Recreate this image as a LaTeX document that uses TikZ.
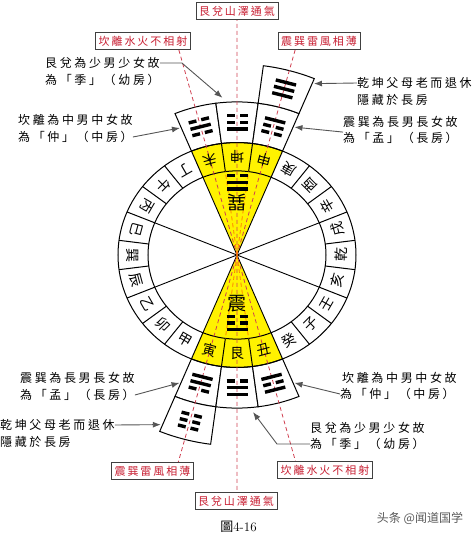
\documentclass[tikz,border=0pt]{standalone}
\usepackage{fontspec}
\usetikzlibrary{arrows.meta}
\newfontfamily\cjk{Noto Sans CJK TC}
\newfontfamily\notefont{Noto Sans CJK TC}[LetterSpace=22]
\newfontfamily\tagfont{Noto Sans CJK TC}[LetterSpace=18]
\newfontfamily\cjksc{Noto Sans CJK SC}
\definecolor{tagred}{RGB}{200,30,50}
\definecolor{gold}{RGB}{255,242,0}
\definecolor{pen}{RGB}{85,85,85}

% one line of a trigram: #1 height, #2 = 1 solid / 0 broken
\newcommand{\yao}[2]{%
  \ifnum#2=1 \draw (-10.5,#1) -- (10.5,#1);
  \else \draw (-10.5,#1) -- (-2.5,#1) (2.5,#1) -- (10.5,#1); \fi}
% trigram at angle #1, radius #2; lines #3 #4 #5 from the centre outwards
\newcommand{\gua}[5]{%
  \begin{scope}[shift={(#1:#2)},rotate=#1+90,line width=3.4pt]
    \yao{7}{#3}\yao{0}{#4}\yao{-7}{#5}
  \end{scope}}

\begin{document}
\begin{tikzpicture}[x=1pt,y=1pt,>={Latex[length=8pt,width=6pt]}]
  \tikzstyle{tag}=[draw=black!75,line width=0.9pt,fill=white,text=tagred,
    font=\tagfont\fontsize{11}{13}\selectfont,inner sep=3pt]
  \tikzstyle{note}=[font=\notefont\fontsize{12}{14}\selectfont,inner sep=0pt]
  \tikzstyle{pointer}=[->,draw=pen,line width=0.9pt]
  \tikzstyle{axis}=[draw=tagred!85,line width=0.8pt,dash pattern=on 4pt off 3pt]
  \tikzstyle{cell}=[draw,line width=1pt,fill=white]
  \tikzstyle{mount}=[font=\cjk\fontsize{14}{14}\selectfont,inner sep=0pt]
  \useasboundingbox (-237,-280) rectangle (237,255);

  \begin{scope}[yscale=0.945]
    % yellow wedges
    \foreach \a in {67.5,247.5}
    \fill[gold] (0,0) -- (\a:119) arc[start angle=\a,end angle=\a+45,radius=119] -- cycle;

    % hexagram cells outside the ring
    \foreach \a/\r/\R in {97.5/119/162,82.5/119/162,67.5/119/162,67.5/162/202,
                          247.5/119/162,262.5/119/162,277.5/119/162,247.5/162/202}
    \draw[cell] (\a:\r) -- (\a:\R) arc[start angle=\a,end angle=\a+15,radius=\R]
      -- ({\a+15}:\r) arc[start angle=\a+15,end angle=\a,radius=\r] -- cycle;

    % ring of the mountains
    \draw[line width=1pt] (0,0) circle[radius=89] (0,0) circle[radius=119];
    \foreach \a in {0,...,23}
    \draw[line width=1pt] ({97.5+15*\a}:89) -- ({97.5+15*\a}:119);
    \foreach \a in {0,...,7}
    \draw[line width=0.9pt] (0,0) -- ({22.5+45*\a}:89);

    % dashed axes
    \coordinate (ad-n) at (90:252);  \coordinate (ad-s) at (270:252);
    \coordinate (kl-n) at (105:232); \coordinate (kl-s) at (285:232);
    \coordinate (zx-n) at (75:232);  \coordinate (zx-s) at (255:232);
    \draw[axis] (ad-n) -- (ad-s) (kl-n) -- (kl-s) (zx-n) -- (zx-s);
    \foreach \a in {82.5,97.5,262.5,277.5}
    \draw[axis,draw=orange] (0,0) -- (\a:89);

    % trigrams
    \gua{105}{140.5}{0}{1}{0}
    \gua{90}{140.5}{1}{0}{0}
    \gua{75}{140.5}{0}{0}{1}
    \gua{75}{182}{1}{1}{1}
    \gua{255}{140.5}{1}{1}{0}
    \gua{270}{140.5}{0}{1}{1}
    \gua{285}{140.5}{1}{0}{1}
    \gua{255}{182}{0}{0}{0}
    \gua{90}{77}{1}{1}{0}
    \gua{270}{72}{0}{0}{1}
    \node[font=\cjk\fontsize{19}{19}\selectfont,inner sep=0pt,rotate=180] (xun) at (90:56) {巽};
    \node[font=\cjk\fontsize{19}{19}\selectfont,inner sep=0pt] (zhen) at (270:51) {震};

    \foreach \m [count=\i from 0] in {坤,申,庚,酉,辛,戌,乾,亥,壬,子,癸,丑,艮,寅,甲,卯,乙,辰,巽,巳,丙,午,丁,未}
    \node[mount,rotate=180-15*\i] (m-\i) at ({90-15*\i}:104) {\m};

    % arrow targets
    \coordinate (p-ad) at (95:167);
    \coordinate (p-kl) at (113:146);
    \coordinate (p-qk) at (67:197);
    \coordinate (p-zx) at (67:147);
    \coordinate (q-zx) at (247:147);
    \coordinate (q-qk) at (247:195);
    \coordinate (q-kl) at (293:147);
    \coordinate (q-ad) at (275.5:167);
  \end{scope}

  % titles
  \node[tag] (t-ad-n) at (0,244) {艮兌山澤通氣};
  \node[tag] (t-kl-n) at (-94,214) {坎離水火不相射};
  \node[tag] (t-zx-n) at (82,214) {震巽雷風相薄};
  \node[tag] (t-zx-s) at (-84.5,-216) {震巽雷風相薄};
  \node[tag] (t-ad-s) at (-1,-246) {艮兌山澤通氣};
  \node[tag] (t-kl-s) at (88,-215) {坎離水火不相射};

  % notes, upper half
  \node[note,anchor=west] (nad1) at (-192,192) {艮兌為少男少女故};
  \node[note,anchor=west] (nad2) at (-192,175) {為「季」（幼房）};
  \node[note,anchor=west] (nkl1) at (-219,135) {坎離為中男中女故};
  \node[note,anchor=west] (nkl2) at (-219,118) {為「仲」（中房）};
  \node[note,anchor=west] (nqk1) at (120,172) {乾坤父母老而退休};
  \node[note,anchor=west] (nqk2) at (120,155) {隱藏於長房};
  \node[note,anchor=west] (nzx1) at (106,133) {震巽為長男長女故};
  \node[note,anchor=west] (nzx2) at (106,117) {為「孟」（長房）};

  % notes, lower half
  \node[note,anchor=west] (szx1) at (-217,-123) {震巽為長男長女故};
  \node[note,anchor=west] (szx2) at (-217,-140) {為「孟」（長房）};
  \node[note,anchor=west] (sqk1) at (-237,-170) {乾坤父母老而退休};
  \node[note,anchor=west] (sqk2) at (-237,-187) {隱藏於長房};
  \node[note,anchor=west] (skl1) at (105,-123) {坎離為中男中女故};
  \node[note,anchor=west] (skl2) at (103,-139) {為「仲」（中房）};
  \node[note,anchor=west] (sad1) at (73,-173) {艮兌為少男少女故};
  \node[note,anchor=west] (sad2) at (73,-189) {為「季」（幼房）};

  \draw[pointer] (nad1.east) -- ++(22,0) -- (p-ad);
  \draw[pointer] (nkl2.east) -- (p-kl);
  \draw[pointer] (nqk1.west) -- (p-qk);
  \draw[pointer] (nzx2.north west) -- (p-zx);
  \draw[pointer] (szx2.east) -- (q-zx);
  \draw[pointer] (sqk1.east) -- (q-qk);
  \draw[pointer] (skl2.west) -- (q-kl);
  \draw[pointer] (sad2.west) -- ++(-33,0) -- (q-ad);

  \node[font=\fontsize{13}{13}\selectfont] (caption) at (1.5,-272) {{\cjk 圖}4-16};
  \node[text=black!65,font=\cjksc\fontsize{12}{12}\selectfont] (mark) at (183,-263) {头条 @闻道国学};
\end{tikzpicture}
\end{document}
